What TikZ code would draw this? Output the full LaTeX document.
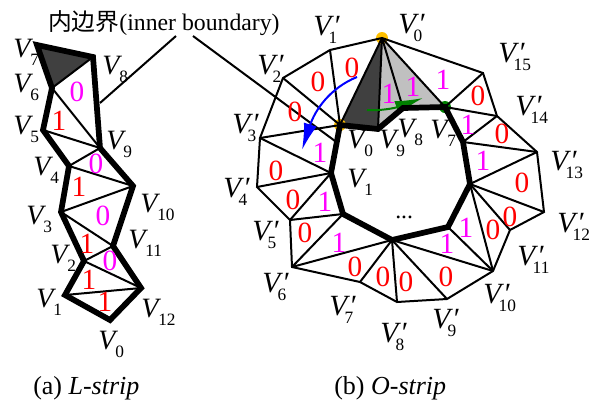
\documentclass[tikz,border=0pt]{standalone}
\usepackage{fontspec}
\setmainfont{Liberation Serif}
\newfontfamily\cjk{Noto Sans CJK SC}
\usetikzlibrary{arrows.meta}
\definecolor{darkfill}{RGB}{64,64,64}
\definecolor{lightfill}{RGB}{192,192,192}
\definecolor{dotyellow}{RGB}{255,192,0}
\definecolor{dotgreen}{RGB}{0,128,0}
\definecolor{bitred}{RGB}{255,0,0}
\definecolor{bitpink}{RGB}{255,0,255}
\definecolor{arrowblue}{RGB}{0,0,255}
\newcommand{\vname}[1]{\fontsize{21}{22}\selectfont\textit{V}\kern-0.1em\raisebox{-6pt}{\fontsize{13}{14}\selectfont #1}}
\newcommand{\vprime}[1]{\fontsize{22}{23}\selectfont\textit{V}\rlap{\kern-0.03em\textit{′}}\kern-0.18em\raisebox{-6pt}{\fontsize{13}{14}\selectfont #1}}
\tikzset{
    thinedge/.style={line width=1.5pt},
    thickedge/.style={line width=4.3pt, line join=miter},
    vlabel/.style={anchor=base west, inner sep=0pt},
    redbit/.style={text=bitred, inner sep=0pt, font=\fontsize{22}{22}\selectfont},
    pinkbit/.style={text=bitpink, inner sep=0pt, font=\fontsize{22}{22}\selectfont},
    caption/.style={anchor=base west, inner sep=0pt, font=\fontsize{17.8}{18}\selectfont},
    subcaption/.style={anchor=base west, inner sep=0pt, font=\fontsize{19.5}{20}\selectfont}
}
\begin{document}
\begin{tikzpicture}[x=0.75pt, y=-0.75pt]
    \useasboundingbox (0,0) rectangle (590,401);

    \coordinate (LV0) at (110,320);
    \coordinate (LV1) at (65,295);
    \coordinate (LV2) at (84,261);
    \coordinate (LV3) at (61,212);
    \coordinate (LV4) at (69,166);
    \coordinate (LV5) at (43,130);
    \coordinate (LV6) at (52,88);
    \coordinate (LV7) at (37,45);
    \coordinate (LV8) at (93,57);
    \coordinate (LV9) at (100,148);
    \coordinate (LV10) at (133,186);
    \coordinate (LV11) at (113,246);
    \coordinate (LV12) at (141,288);

    \coordinate (IV0) at (340,125);
    \coordinate (IV1) at (331,173);
    \coordinate (IV2) at (343,214);
    \coordinate (IV3) at (392,240);
    \coordinate (IV4) at (448,227);
    \coordinate (IV5) at (470,184);
    \coordinate (IV6) at (463,142);
    \coordinate (IV7) at (445,107);
    \coordinate (IV8) at (403,108);
    \coordinate (IV9) at (378,129);

    \coordinate (OV0) at (382,38);
    \coordinate (OV1) at (330,50);
    \coordinate (OV2) at (283,78);
    \coordinate (OV3) at (260,138);
    \coordinate (OV4) at (257,187);
    \coordinate (OV5) at (290,220);
    \coordinate (OV6) at (292,267);
    \coordinate (OV7) at (360,282);
    \coordinate (OV8) at (397,302);
    \coordinate (OV9) at (447,299);
    \coordinate (OV10) at (493,271);
    \coordinate (OV11) at (510,230);
    \coordinate (OV12) at (544,212);
    \coordinate (OV13) at (537,152);
    \coordinate (OV14) at (497,116);
    \coordinate (OV15) at (483,73);

    \coordinate (leadA) at (176,36);
    \coordinate (leadB) at (100,103);
    \coordinate (leadC) at (193,36);
    \coordinate (leadD) at (335,141);
    \coordinate (blueA) at (357,77);
    \coordinate (blueB) at (302,150);
    \coordinate (greenA) at (367,110);
    \coordinate (greenB) at (423,98);

    \fill[darkfill] (LV7) -- (LV8) -- (LV6) -- cycle;
    \fill[darkfill] (OV0) -- (IV0) -- (IV9) -- cycle;
    \fill[lightfill] (OV0) -- (IV9) -- (IV8) -- (IV7) -- cycle;

    \fill[dotyellow] (OV0) circle (6);
    \fill[dotyellow] (IV0) circle (6);
    \fill[dotgreen] (IV7) circle (6);

    \draw[thinedge] (leadA) -- (leadB);
    \draw[thinedge] (leadC) -- (leadD);

    \draw[thinedge] (LV6) -- (LV8);
    \draw[thinedge] (LV6) -- (LV9);
    \draw[thinedge] (LV5) -- (LV9);
    \draw[thinedge] (LV4) -- (LV9);
    \draw[thinedge] (LV4) -- (LV10);
    \draw[thinedge] (LV3) -- (LV10);
    \draw[thinedge] (LV3) -- (LV11);
    \draw[thinedge] (LV2) -- (LV11);
    \draw[thinedge] (LV2) -- (LV12);
    \draw[thinedge] (LV1) -- (LV12);
    \draw[thickedge] (LV0) -- (LV1) -- (LV2) -- (LV3) -- (LV4) -- (LV5) -- (LV6) -- (LV7) -- (LV8) -- (LV9) -- (LV10) -- (LV11) -- (LV12) -- cycle;

    \draw[thinedge] (OV0) -- (OV1) -- (OV2) -- (OV3) -- (OV4) -- (OV5) -- (OV6) -- (OV7) -- (OV8) -- (OV9) -- (OV10) -- (OV11) -- (OV12) -- (OV13) -- (OV14) -- (OV15) -- cycle;
    \draw[thinedge] (OV0) -- (IV0);
    \draw[thinedge] (OV0) -- (IV9);
    \draw[thinedge] (OV0) -- (IV8);
    \draw[thinedge] (OV0) -- (IV7);
    \draw[thinedge] (OV1) -- (IV0);
    \draw[thinedge] (OV2) -- (IV0);
    \draw[thinedge] (OV3) -- (IV0);
    \draw[thinedge] (OV3) -- (IV1);
    \draw[thinedge] (OV4) -- (IV1);
    \draw[thinedge] (OV5) -- (IV1);
    \draw[thinedge] (OV5) -- (IV2);
    \draw[thinedge] (OV6) -- (IV2);
    \draw[thinedge] (OV6) -- (IV3);
    \draw[thinedge] (OV7) -- (IV3);
    \draw[thinedge] (OV8) -- (IV3);
    \draw[thinedge] (OV9) -- (IV3);
    \draw[thinedge] (OV10) -- (IV3);
    \draw[thinedge] (OV10) -- (IV4);
    \draw[thinedge] (OV10) -- (IV5);
    \draw[thinedge] (OV11) -- (IV5);
    \draw[thinedge] (OV12) -- (IV5);
    \draw[thinedge] (OV13) -- (IV5);
    \draw[thinedge] (OV13) -- (IV6);
    \draw[thinedge] (OV14) -- (IV6);
    \draw[thinedge] (OV14) -- (IV7);
    \draw[thinedge] (OV15) -- (IV7);

    \draw[arrowblue, line width=1.5pt, -{Latex[length=20pt, width=10pt]}] (blueA) .. controls (330,88) and (315,110) .. (blueB);
    \draw[dotgreen, line width=1.5pt, -{Latex[length=21pt, width=10pt]}] (greenA) .. controls (380,111) and (395,108) .. (greenB);

    \draw[thickedge] (IV0) -- (IV1) -- (IV2) -- (IV3) -- (IV4) -- (IV5) -- (IV6) -- (IV7) -- (IV8) -- (IV9) -- cycle;

    \node[caption] (boundary) at (48,30) {{\cjk 内边界}(inner boundary)};
    \node[subcaption] (capA) at (33,394) {(a) \textit{L-strip}};
    \node[subcaption] (capB) at (334,394) {(b) \textit{O-strip}};
    \node[caption] (gap) at (395,218) {...};

    \node[vlabel] (tLV0) at (98,349) {\vname{0}};
    \node[vlabel] (tLV1) at (36,307) {\vname{1}};
    \node[vlabel] (tLV2) at (50,263) {\vname{2}};
    \node[vlabel] (tLV3) at (26,224) {\vname{3}};
    \node[vlabel] (tLV4) at (33,175) {\vname{4}};
    \node[vlabel] (tLV5) at (13,134) {\vname{5}};
    \node[vlabel] (tLV6) at (13,92) {\vname{6}};
    \node[vlabel] (tLV7) at (13,57) {\vname{7}};
    \node[vlabel] (tLV8) at (102,74) {\vname{8}};
    \node[vlabel] (tLV9) at (106,149) {\vname{9}};
    \node[vlabel] (tLV10) at (140,212) {\vname{10}};
    \node[vlabel] (tLV11) at (128,248) {\vname{11}};
    \node[vlabel] (tLV12) at (141,317) {\vname{12}};

    \node[vlabel] (tIV0) at (347,148) {\vname{0}};
    \node[vlabel] (tIV1) at (347,187) {\vname{1}};
    \node[vlabel] (tIV7) at (430,138) {\vname{7}};
    \node[vlabel] (tIV8) at (397,137) {\vname{8}};
    \node[vlabel] (tIV9) at (379,148) {\vname{9}};

    \node[vlabel] (tOV0) at (398,33) {\vprime{0}};
    \node[vlabel] (tOV1) at (313,35) {\vprime{1}};
    \node[vlabel] (tOV2) at (257,74) {\vprime{2}};
    \node[vlabel] (tOV3) at (232,133) {\vprime{3}};
    \node[vlabel] (tOV4) at (223,197) {\vprime{4}};
    \node[vlabel] (tOV5) at (252,240) {\vprime{5}};
    \node[vlabel] (tOV6) at (262,292) {\vprime{6}};
    \node[vlabel] (tOV7) at (329,315) {\vprime{7}};
    \node[vlabel] (tOV8) at (380,342) {\vprime{8}};
    \node[vlabel] (tOV9) at (432,328) {\vprime{9}};
    \node[vlabel] (tOV10) at (483,303) {\vprime{10}};
    \node[vlabel] (tOV11) at (517,265) {\vprime{11}};
    \node[vlabel] (tOV12) at (557,232) {\vprime{12}};
    \node[vlabel] (tOV13) at (550,170) {\vprime{13}};
    \node[vlabel] (tOV14) at (515,115) {\vprime{14}};
    \node[vlabel] (tOV15) at (498,62) {\vprime{15}};

    \node[pinkbit] (bitA) at (77,92) {0};
    \node[redbit] (bitB) at (59,121) {1};
    \node[pinkbit] (bitC) at (96,164) {0};
    \node[redbit] (bitD) at (79,187) {1};
    \node[pinkbit] (bitE) at (103,216) {0};
    \node[redbit] (bitF) at (87,244) {1};
    \node[pinkbit] (bitG) at (110,261) {0};
    \node[redbit] (bitH) at (89,280) {1};
    \node[redbit] (bitI) at (105,302) {1};

    \node[redbit] (bitJ) at (352,68) {0};
    \node[redbit] (bitK) at (318,82) {0};
    \node[redbit] (bitL) at (295,112) {0};
    \node[pinkbit] (bitM) at (320,153) {1};
    \node[redbit] (bitN) at (276,171) {0};
    \node[redbit] (bitO) at (293,200) {0};
    \node[pinkbit] (bitP) at (325,202) {1};
    \node[redbit] (bitQ) at (305,233) {0};
    \node[pinkbit] (bitR) at (339,243) {1};
    \node[redbit] (bitS) at (355,267) {0};
    \node[redbit] (bitT) at (383,277) {0};
    \node[redbit] (bitU) at (406,282) {0};
    \node[redbit] (bitV) at (446,277) {0};
    \node[pinkbit] (bitW) at (447,244) {1};
    \node[pinkbit] (bitX) at (466,228) {1};
    \node[redbit] (bitY) at (493,230) {0};
    \node[redbit] (bitZ) at (510,217) {0};
    \node[redbit] (bitAA) at (522,183) {0};
    \node[pinkbit] (bitAB) at (483,161) {1};
    \node[redbit] (bitAC) at (502,134) {0};
    \node[pinkbit] (bitAD) at (468,125) {1};
    \node[redbit] (bitAE) at (478,96) {0};
    \node[pinkbit] (bitAF) at (443,80) {1};
    \node[pinkbit] (bitAG) at (413,87) {1};
    \node[pinkbit] (bitAH) at (389,94) {1};
\end{tikzpicture}
\end{document}
